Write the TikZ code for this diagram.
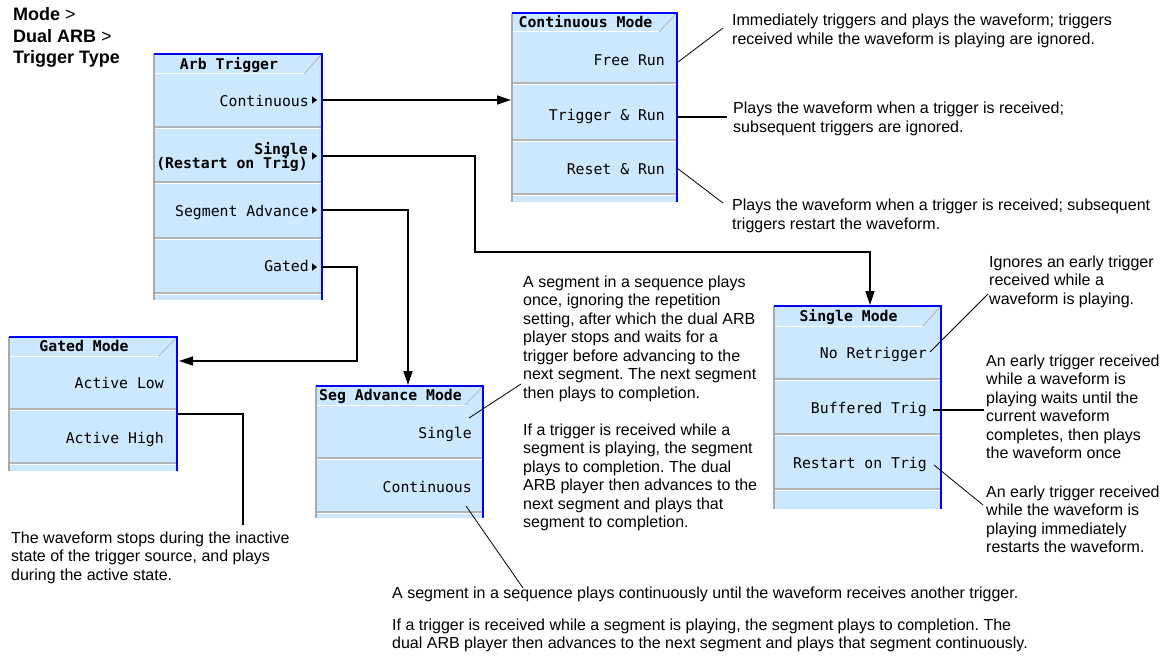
\documentclass[tikz,border=0pt]{standalone}
\usepackage{fontspec}
\setmainfont{Liberation Sans}
\newfontfamily\dispmono{DejaVu Sans Mono}
\usetikzlibrary{arrows.meta}
\frenchspacing
\definecolor{menublue}{RGB}{204,232,255}
\definecolor{edgeblue}{RGB}{0,0,255}
\definecolor{edgegrey}{RGB}{170,170,170}
\definecolor{sepgrey}{RGB}{180,180,180}
\tikzset{
 menubody/.style={fill=menublue, draw=none, inner sep=0pt, outer sep=0pt, anchor=north west},
 blueedge/.style={draw=edgeblue, line width=2.2pt},
 greyedge/.style={draw=edgegrey, line width=1.2pt},
 sepline/.style={draw=sepgrey, line width=1.5pt},
 sephl/.style={draw=white, line width=1pt},
 tabline/.style={draw=sepgrey, line width=0.8pt},
 menutitle/.style={font=\dispmono\bfseries\fontsize{14.8}{14}\selectfont, inner sep=0pt, anchor=base},
 softkey/.style={font=\dispmono\fontsize{14.8}{14}\selectfont, inner sep=0pt, anchor=base east},
 softkeyb/.style={font=\dispmono\bfseries\fontsize{14.8}{14}\selectfont, inner sep=0pt, anchor=base east},
 desc/.style={font=\fontsize{16}{18.5}\selectfont, align=left, inner sep=0pt, anchor=north west},
 header/.style={font=\fontsize{18}{21.5}\selectfont, align=left, inner sep=0pt, anchor=north west},
 conn/.style={draw=black, line width=1.6pt, -{Triangle[length=14pt,width=9pt]}},
 connplain/.style={draw=black, line width=1.6pt},
 callout/.style={draw=black, line width=0.8pt},
 subarrow/.style={fill=black},
}
\newcommand{\softmenu}[8]{%
 \pgfmathsetmacro\mw{#4-#2}\pgfmathsetmacro\mh{#6-#3}%
 \node[menubody, minimum width=\mw pt, minimum height=\mh pt] (#1) at (#2,#3) {};
 \foreach \s in {#8} {\draw[sepline] (#2,\s) -- (#4,\s); \draw[sephl] (#2,\s+1.6) -- (#4,\s+1.6);}
 \draw[sephl] (#2,#5) -- (#4-18,#5);
 \draw[tabline] (#4-18,#5) -- (#4-1,#3+1);
 \draw[greyedge] (#1.north west) -- (#1.south west);
 \draw[blueedge] (#1.north west) -- (#1.north east) -- (#1.south east);
 \node[menutitle] (#1t) at ({(#2+#4-18)/2},{(#3+#5)/2+5.4}) {#7};
}
\newcommand{\subtri}[2]{\fill[subarrow] (#1,#2-3.8) -- (#1+5,#2) -- (#1,#2+3.8) -- cycle;}
\begin{document}
\begin{tikzpicture}[x=1pt,y=-1pt]
\fill[white] (0,0) rectangle (1172,658);
\useasboundingbox (0,0) rectangle (1172,658);

% header
\node[header] (hdr) at (13,7.6) {\textbf{Mode} >\\\textbf{Dual ARB} >\\\textbf{Trigger Type}};

% menus
\softmenu{arb}{154}{54}{322}{74}{300}{Arb Trigger}{127,182,238,293}
\softmenu{cmode}{512}{13}{677}{32}{202}{Continuous Mode}{83,140,194}
\softmenu{gmode}{9}{337}{177}{356}{471}{Gated Mode}{409,463}
\softmenu{smode}{316}{386}{483}{405}{518}{Seg Advance Mode}{458,512}
\softmenu{snmode}{774}{306}{941}{326}{509}{Single Mode}{379,434,489}

% Arb Trigger softkeys
\node[softkey] (kCont) at (309,106.4) {Continuous};
\node[softkeyb] (kSingA) at (308,154.4) {Single};
\node[softkeyb] (kSingB) at (308,168.4) {(Restart on Trig)};
\node[softkey] (kSeg) at (309,216.4) {Segment Advance};
\node[softkey] (kGate) at (309,271.4) {Gated};
\subtri{312}{100}
\subtri{312}{156}
\subtri{312}{210}
\subtri{312}{267}

% Continuous Mode softkeys
\node[softkey] (kFree) at (665,65.4) {Free Run};
\node[softkey] (kTrig) at (665,120.4) {Trigger \& Run};
\node[softkey] (kReset) at (665,174.4) {Reset \& Run};

% Gated Mode softkeys
\node[softkey] (kLow) at (164,388.4) {Active Low};
\node[softkey] (kHigh) at (164,443.4) {Active High};

% Seg Advance Mode softkeys
\node[softkey] (kSSingle) at (472,438.4) {Single};
\node[softkey] (kSCont) at (472,492.4) {Continuous};

% Single Mode softkeys
\node[softkey] (kNoRe) at (927,358.4) {No Retrigger};
\node[softkey] (kBuf) at (927,413.4) {Buffered Trig};
\node[softkey] (kRes) at (927,468.4) {Restart on Trig};

% connector coordinates
\coordinate (pCont) at (322,100);
\coordinate (inCont) at (511,100);
\coordinate (pSing) at (322,156);
\coordinate (bendS) at (475,252);
\coordinate (inSing) at (870,305);
\coordinate (pSeg) at (322,210);
\coordinate (inSeg) at (408,385);
\coordinate (pGate) at (322,267);
\coordinate (bendG) at (357,361);
\coordinate (inGate) at (179,361);
\coordinate (pHigh) at (177,414);
\coordinate (endHigh) at (243,525);

\draw[conn] (pCont) -- (inCont);
\draw[conn] (pSing) -| (bendS) -| (inSing);
\draw[conn] (pSeg) -| (inSeg);
\draw[conn] (pGate) -| (bendG) -- (inGate);
\draw[connplain] (pHigh) -| (endHigh);

% descriptions
\node[desc] (dFree) at (732,13.8) {Immediately triggers and plays the waveform; triggers\\received while the waveform is playing are ignored.};
\node[desc] (dTrig) at (733,102) {Plays the waveform when a trigger is received;\\subsequent triggers are ignored.};
\node[desc] (dReset) at (732,199) {Plays the waveform when a trigger is received; subsequent\\triggers restart the waveform.};
\node[desc] (dSegS) at (523,275.3) {A segment in a sequence plays\\once, ignoring the repetition\\setting, after which the dual ARB\\player stops and waits for a\\trigger before advancing to the\\next segment. The next segment\\then plays to completion.\\[18.5pt]If a trigger is received while a\\segment is playing, the segment\\plays to completion. The dual\\ARB player then advances to the\\next segment and plays that\\segment to completion.};
\node[desc] (dSegC1) at (392,586.3) {A segment in a sequence plays continuously until the waveform receives another trigger.};
\node[desc] (dSegC2) at (392,618.3) {If a trigger is received while a segment is playing, the segment plays to completion. The\\dual ARB player then advances to the next segment and plays that segment continuously.};
\node[desc] (dGate) at (11,531.3) {The waveform stops during the inactive\\state of the trigger source, and plays\\during the active state.};
\node[desc] (dNoRe) at (989,255.3) {Ignores an early trigger\\received while a\\waveform is playing.};
\node[desc] (dBuf) at (986,354.3) {An early trigger received\\while a waveform is\\playing waits until the\\current waveform\\completes, then plays\\the waveform once};
\node[desc] (dRes) at (986,485.3) {An early trigger received\\while the waveform is\\playing immediately\\restarts the waveform.};

% callouts
\coordinate (cFreeA) at (678,62);  \coordinate (cFreeB) at (723,28);
\coordinate (cTrigA) at (677,117); \coordinate (cTrigB) at (727,117);
\coordinate (cResA) at (677,168);  \coordinate (cResB) at (723,203);
\coordinate (cSSA) at (469,418);   \coordinate (cSSB) at (521,384);
\coordinate (cSCA) at (466,506);   \coordinate (cSCB) at (523,588);
\coordinate (cNoA) at (930,352);   \coordinate (cNoB) at (988,294);
\coordinate (cBufA) at (933,410);  \coordinate (cBufB) at (984,410);
\coordinate (cRsA) at (934,465);   \coordinate (cRsB) at (983,505);
\draw[callout] (cFreeA) -- (cFreeB);
\draw[connplain] (cTrigA) -- (cTrigB);
\draw[callout] (cResA) -- (cResB);
\draw[callout] (cSSA) -- (cSSB);
\draw[callout] (cSCA) -- (cSCB);
\draw[callout] (cNoA) -- (cNoB);
\draw[connplain] (cBufA) -- (cBufB);
\draw[callout] (cRsA) -- (cRsB);
\end{tikzpicture}
\end{document}
